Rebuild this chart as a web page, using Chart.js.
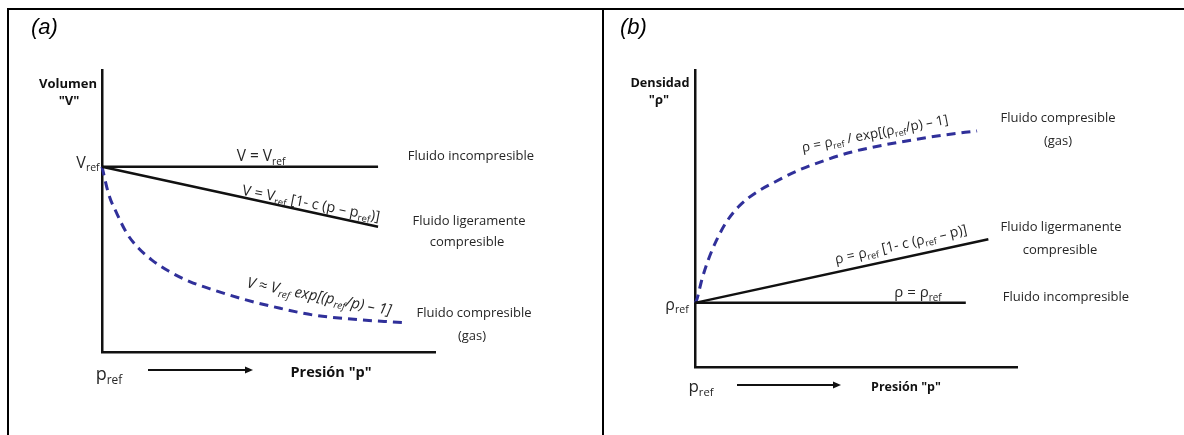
<!DOCTYPE html>
<html>
<head>
<meta charset="utf-8">
<script src="https://cdn.jsdelivr.net/npm/chart.js@4.4.1/dist/chart.umd.min.js"></script>
<style>
    html, body { margin: 0; padding: 0; background: #fff; }
    body { width: 1184px; height: 435px; position: relative; overflow: hidden; }
    .rule { position: absolute; background: #000; }
    .panel { position: absolute; }
    .panel canvas { display: block; }
</style>
</head>
<body>
<div class="rule" style="left:7px;top:8px;width:1177px;height:2px"></div>
<div class="rule" style="left:7px;top:8px;width:2px;height:427px"></div>
<div class="rule" style="left:602px;top:8px;width:2px;height:427px"></div>

<div class="panel" style="left:9px;top:10px"><canvas id="chartA" width="593" height="425" style="width:593px;height:425px"></canvas></div>
<div class="panel" style="left:604px;top:10px"><canvas id="chartB" width="580" height="425" style="width:580px;height:425px"></canvas></div>

<script>
(function () {
    'use strict';

    /* ---- (a) volumen vs presion ---- */
    var pressLinesA = [0, 8.29];
    var volIncomp   = [6.57, 6.57];
    var volSlight   = [6.57, 4.44];
    var pressGasA   = [0, 0.2, 0.45, 0.75, 1.1, 1.5, 2.0, 2.65, 3.35, 4.35, 5.35, 6.35, 7.35, 9.05];
    var volGas      = [6.57, 5.6, 4.9, 4.2, 3.68, 3.26, 2.87, 2.49, 2.2, 1.84, 1.55, 1.31, 1.18, 1.04];

    /* ---- (b) densidad vs presion ---- */
    var pressIncompB = [0, 8.41];
    var densIncomp   = [2.16, 2.16];
    var pressSlightB = [0, 9.11];
    var densSlight   = [2.16, 4.30];
    var pressGasB    = [0, 0.05, 0.21, 0.41, 0.67, 0.98, 1.40, 1.92, 2.48, 3.21, 4.04, 4.87, 5.80, 6.83, 7.66, 8.76];
    var densGas      = [2.16, 2.25, 2.93, 3.60, 4.27, 4.89, 5.45, 5.89, 6.23, 6.62, 6.96, 7.24, 7.46, 7.66, 7.80, 7.95];

    var axisRange = [0, 10];

    var FONT = '"Open Sans", Lato, sans-serif';
    var INK = '#262626';
    var BLUE = '#30309a';

    // page coordinates of panels and axis boxes
    var panelA = { left: 9, top: 10, width: 593, height: 425 };
    var panelB = { left: 604, top: 10, width: 580, height: 425 };
    var boxA = { left: 102, top: 70, right: 435, bottom: 352 };
    var boxB = { left: 695, top: 70, right: 1017, bottom: 367 };

    var notesA = [
        { x: 31, y: 28, text: '(a)', size: 22, italic: true, family: '"Liberation Sans", Arial, sans-serif', align: 'left', color: '#000' },
        { x: 68, y: 84, text: 'Volumen', size: 13, bold: true, color: '#111' },
        { x: 69, y: 101, text: '"V"', size: 13, bold: true, color: '#111' },
        { x: 88, y: 163, runs: [['V'], ['ref', 1]], size: 16 },
        { x: 261, y: 157, runs: [['V = V'], ['ref', 1]], size: 15.5 },
        { x: 311, y: 204, angle: 11, runs: [['V = V'], ['ref', 1], [' [1- c (p \u2013 p'], ['ref', 1], [')]']], size: 14.5 },
        { x: 319, y: 297, angle: 11, italic: true, runs: [['V \u2248 V'], ['ref', 1], [' exp[(p'], ['ref', 1], ['/p) \u2013 1]']], size: 15 },
        { x: 471, y: 156, text: 'Fluido incompresible', size: 13 },
        { x: 469, y: 221, text: 'Fluido ligeramente', size: 13 },
        { x: 467, y: 242, text: 'compresible', size: 13 },
        { x: 474, y: 313, text: 'Fluido compresible', size: 13 },
        { x: 472, y: 336, text: '(gas)', size: 13 },
        { x: 109, y: 375, runs: [['p'], ['ref', 1]], size: 18 },
        { x: 331, y: 373, text: 'Presi\u00f3n "p"', size: 14.5, bold: true, color: '#111' }
    ];
    var arrowsA = [{ x1: 148, x2: 253, y: 370 }];

    var notesB = [
        { x: 620, y: 28, text: '(b)', size: 22, italic: true, family: '"Liberation Sans", Arial, sans-serif', align: 'left', color: '#000' },
        { x: 660, y: 83, text: 'Densidad', size: 12.7, bold: true, color: '#111' },
        { x: 659, y: 100, text: '"\u03c1"', size: 13, bold: true, color: '#111' },
        { x: 677, y: 305, runs: [['\u03c1'], ['ref', 1]], size: 16 },
        { x: 875, y: 134, angle: -11, runs: [['\u03c1 = \u03c1'], ['ref', 1], [' / exp[(\u03c1'], ['ref', 1], ['/p) \u2013 1]']], size: 13.5 },
        { x: 901, y: 245, angle: -13, runs: [['\u03c1 = \u03c1'], ['ref', 1], [' [1- c (\u03c1'], ['ref', 1], [' \u2013 p)]']], size: 14 },
        { x: 918, y: 293, runs: [['\u03c1 = \u03c1'], ['ref', 1]], size: 15 },
        { x: 1058, y: 118, text: 'Fluido compresible', size: 13 },
        { x: 1058, y: 141, text: '(gas)', size: 13 },
        { x: 1061, y: 227, text: 'Fluido ligermanente', size: 13 },
        { x: 1060, y: 250, text: 'compresible', size: 13 },
        { x: 1066, y: 297, text: 'Fluido incompresible', size: 13 },
        { x: 701, y: 387, runs: [['p'], ['ref', 1]], size: 17 },
        { x: 906, y: 387, text: 'Presi\u00f3n "p"', size: 12.5, bold: true, color: '#111' }
    ];
    var arrowsB = [{ x1: 737, x2: 841, y: 385 }];

    function xy(xs, ys) {
        return xs.map(function (x, i) { return { x: x, y: ys[i] }; });
    }

    function solid(data) {
        return { data: data, showLine: true, borderColor: '#111', borderWidth: 2.5, pointRadius: 0, fill: false, clip: false };
    }
    function dashed(data) {
        return { data: data, showLine: true, borderColor: BLUE, borderWidth: 3, borderDash: [9, 6], pointRadius: 0,
            fill: false, clip: false, cubicInterpolationMode: 'monotone' };
    }

    function drawRich(ctx, n) {
        var size = n.size;
        var fam = n.family || FONT;
        var style = (n.italic ? 'italic ' : '') + (n.bold ? 'bold ' : '');
        var runs = n.runs || [[n.text]];
        var widths = runs.map(function (r) {
            ctx.font = style + (r[1] ? size * 0.66 : size) + 'px ' + fam;
            return ctx.measureText(r[0]).width;
        });
        var total = widths.reduce(function (a, b) { return a + b; }, 0);
        ctx.save();
        ctx.translate(n.x, n.y);
        if (n.angle) ctx.rotate(n.angle * Math.PI / 180);
        ctx.fillStyle = n.color || INK;
        ctx.textBaseline = 'middle';
        ctx.textAlign = 'left';
        var cx = n.align === 'left' ? 0 : -total / 2;
        runs.forEach(function (r, i) {
            ctx.font = style + (r[1] ? size * 0.66 : size) + 'px ' + fam;
            ctx.fillText(r[0], cx, r[1] ? size * 0.32 : 0);
            cx += widths[i];
        });
        ctx.restore();
    }

    function drawArrow(ctx, a) {
        ctx.save();
        ctx.strokeStyle = '#111';
        ctx.fillStyle = '#111';
        ctx.lineWidth = 2;
        ctx.beginPath();
        ctx.moveTo(a.x1, a.y);
        ctx.lineTo(a.x2 - 6, a.y);
        ctx.stroke();
        ctx.beginPath();
        ctx.moveTo(a.x2, a.y);
        ctx.lineTo(a.x2 - 8, a.y - 3.5);
        ctx.lineTo(a.x2 - 8, a.y + 3.5);
        ctx.closePath();
        ctx.fill();
        ctx.restore();
    }

    function notesPlugin(panel, notes, arrows) {
        return {
            id: 'notes',
            afterDraw: function (chart) {
                var ctx = chart.ctx;
                ctx.save();
                ctx.translate(-panel.left, -panel.top);
                notes.forEach(function (n) { drawRich(ctx, n); });
                arrows.forEach(function (a) { drawArrow(ctx, a); });
                ctx.restore();
            }
        };
    }

    function axis() {
        return {
            type: 'linear', min: axisRange[0], max: axisRange[1],
            grid: { display: false, drawTicks: false },
            ticks: { display: false },
            border: { display: true, color: '#111', width: 2.5 }
        };
    }

    function makeChart(id, panel, box, datasets, notes, arrows) {
        return new Chart(document.getElementById(id), {
            type: 'scatter',
            data: { datasets: datasets },
            options: {
                responsive: false,
                animation: false,
                events: [],
                layout: {
                    padding: {
                        left: box.left - panel.left,
                        top: box.top - panel.top,
                        right: panel.left + panel.width - box.right,
                        bottom: panel.top + panel.height - box.bottom
                    }
                },
                plugins: { legend: { display: false }, tooltip: { enabled: false } },
                scales: { x: axis(), y: axis() }
            },
            plugins: [notesPlugin(panel, notes, arrows)]
        });
    }

    makeChart('chartA', panelA, boxA, [
        solid(xy(pressLinesA, volIncomp)),
        solid(xy(pressLinesA, volSlight)),
        dashed(xy(pressGasA, volGas))
    ], notesA, arrowsA);

    makeChart('chartB', panelB, boxB, [
        solid(xy(pressIncompB, densIncomp)),
        solid(xy(pressSlightB, densSlight)),
        dashed(xy(pressGasB, densGas))
    ], notesB, arrowsB);
})();
</script>
</body>
</html>
